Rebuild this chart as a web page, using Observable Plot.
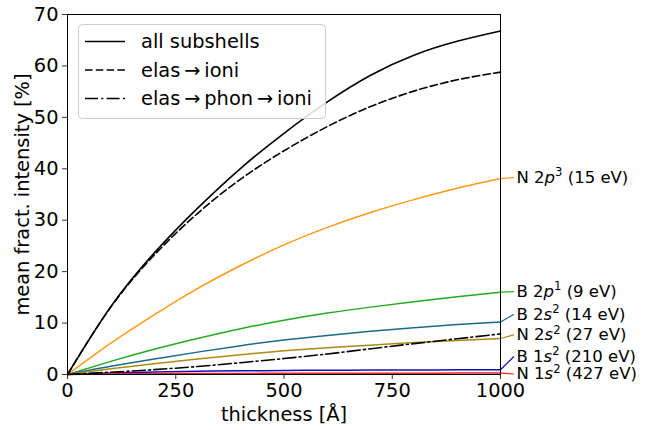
<!DOCTYPE html>
<html>
<head>
<meta charset="utf-8">
<script src="https://cdn.jsdelivr.net/npm/d3@7"></script>
<script src="https://cdn.jsdelivr.net/npm/@observablehq/plot@0.6"></script>
<style>
  html, body { margin: 0; padding: 0; background: white; }
  svg { display: block; }
</style>
</head>
<body>
<div id="chart"></div>
<script>
// ---- data ----
const thickness = [0, 100, 200, 300, 400, 500, 600, 700, 800, 900, 1000];
const allSubshells = [0, 13.2, 23.6, 32.3, 40.1, 46.9, 53.0, 58.2, 62.1, 64.8, 66.8];
const elasIoni = [0, 13.1, 23.2, 31.3, 38.0, 43.5, 48.2, 52.1, 55.1, 57.3, 58.8];
const elasPhonIoni = [0, 0.45, 0.95, 1.55, 2.3, 3.1, 4.0, 5.0, 6.0, 6.95, 7.9];
const N2p = [0, 6.1, 11.6, 16.7, 21.2, 25.2, 28.6, 31.5, 34.0, 36.2, 38.1];
const B2p = [0, 2.55, 4.9, 7.0, 8.9, 10.55, 11.95, 13.1, 14.15, 15.1, 16.0];
const B2s = [0, 1.6, 3.0, 4.35, 5.6, 6.7, 7.6, 8.4, 9.1, 9.7, 10.2];
const N2s = [0, 1.1, 2.1, 3.0, 3.85, 4.6, 5.2, 5.7, 6.2, 6.6, 7.0];
const B1s = [0, 0.3, 0.5, 0.63, 0.72, 0.78, 0.83, 0.86, 0.88, 0.9, 0.92];
const N1s = [0, 0.1, 0.15, 0.19, 0.21, 0.23, 0.24, 0.25, 0.26, 0.27, 0.28];

const subshellElement = ["N", "B", "B", "N", "B", "N"];
const subshellOrbital = ["2", "2", "2", "2", "1", "1"];
const subshellLetter = ["p", "p", "s", "s", "s", "s"];
const subshellOccupancy = ["3", "1", "2", "2", "2", "2"];
const subshellEnergy = [15, 9, 14, 27, 210, 427];
const subshellLabelAt = [38.3, 16.1, 11.7, 7.7, 3.5, 0.1];
const subshellColors = ["#ff9912", "#22aa22", "#1a6b8a", "#aa8a14", "#1111bb", "#ee2222"];

const xTicks = [0, 250, 500, 750, 1000];
const yTicks = [0, 10, 20, 30, 40, 50, 60, 70];
const legendLabels = ["all subshells", "elas\u2009\u2192\u2009ioni", "elas\u2009\u2192\u2009phon\u2009\u2192\u2009ioni"];

// ---- build tables ----
const subshellValues = [N2p, B2p, B2s, N2s, B1s, N1s];
const subRows = [];
subshellValues.forEach((vals, k) => thickness.forEach((t, i) => subRows.push({t, v: vals[i], k})));
const ends = subshellValues.map((vals, k) => ({k, v: vals[vals.length - 1], lab: subshellLabelAt[k]}));
const toRows = vals => thickness.map((t, i) => ({t, v: vals[i]}));

const FONT = "DejaVu Sans, sans-serif";
const CURVE = "natural";
const plot = Plot.plot({
  width: 647,
  height: 430,
  marginLeft: 67,
  marginRight: 147,
  marginTop: 14,
  marginBottom: 56,
  style: {fontFamily: FONT, fontSize: "19.4px", background: "white", overflow: "visible"},
  x: {domain: [0, 1000]},
  y: {domain: [0, 70]},
  marks: [
    Plot.line(subRows, {x: "t", y: "v", z: "k", stroke: d => subshellColors[d.k], strokeWidth: 1.5, curve: CURVE}),
    Plot.line(toRows(elasPhonIoni), {x: "t", y: "v", stroke: "black", strokeWidth: 1.6, strokeDasharray: "13,3.3,2,3.3", curve: CURVE}),
    Plot.line(toRows(elasIoni), {x: "t", y: "v", stroke: "black", strokeWidth: 1.6, strokeDasharray: "7.5,3.3", curve: CURVE}),
    Plot.line(toRows(allSubshells), {x: "t", y: "v", stroke: "black", strokeWidth: 1.6, curve: CURVE}),
    Plot.link(ends, {x1: 1000, y1: "v", x2: 1031, y2: "lab", stroke: d => subshellColors[d.k], strokeWidth: 1.2, clip: false}),
    Plot.text(ends, {x: 1000, y: "lab", dx: 16, text: d => "L" + d.k, textAnchor: "start", fontSize: 16.5, fill: "black"}),
    Plot.axisX({ticks: xTicks, tickFormat: d3.format("d"), tickSize: 5, tickPadding: 4, stroke: "#333", label: "thickness [Å]", labelAnchor: "center", labelOffset: 46, labelArrow: "none", fontSize: 19.4}),
    Plot.axisY({ticks: yTicks, tickFormat: d3.format("d"), tickSize: 5, tickPadding: 4, stroke: "#333", label: "mean fract. intensity [%]", labelAnchor: "center", labelOffset: 52, labelArrow: "none", fontSize: 19.4}),
    Plot.frame({stroke: "black", strokeWidth: 1})
  ]
});

// rich labels with italic letter and superscript
const svg = d3.select(plot);
svg.selectAll("text").each(function() {
  const t = d3.select(this);
  const s = t.text();
  const m = /^L(\d)$/.exec(s);
  if (!m) return;
  const k = +m[1];
  t.text(null);
  t.append("tspan").text(subshellElement[k] + " " + subshellOrbital[k]);
  t.append("tspan").attr("font-style", "italic").text(subshellLetter[k]);
  t.append("tspan").attr("dy", -6.5).attr("font-size", 11.6).text(subshellOccupancy[k]);
  t.append("tspan").attr("dy", 6.5).text(" (" + subshellEnergy[k] + " eV)");
});

// legend box inside the frame
const lg = svg.append("g").attr("font-family", FONT).attr("font-size", "19.4px").attr("text-anchor", "start");
lg.append("rect").attr("x", 78.5).attr("y", 24.5).attr("width", 247).attr("height", 94).attr("rx", 4)
  .attr("fill", "white").attr("fill-opacity", 0.85).attr("stroke", "#cccccc");
const dashes = [null, "7.5,3.3", "13,3.3,2,3.3"];
legendLabels.forEach((lab, i) => {
  const y = 41.5 + i * 28.5;
  lg.append("line").attr("x1", 85).attr("x2", 125).attr("y1", y).attr("y2", y)
    .attr("stroke", "black").attr("stroke-width", 1.6).attr("stroke-dasharray", dashes[i]);
  lg.append("text").attr("x", 141).attr("y", y).attr("dy", "0.35em").text(lab);
});

document.getElementById("chart").appendChild(plot);
</script>
</body>
</html>
